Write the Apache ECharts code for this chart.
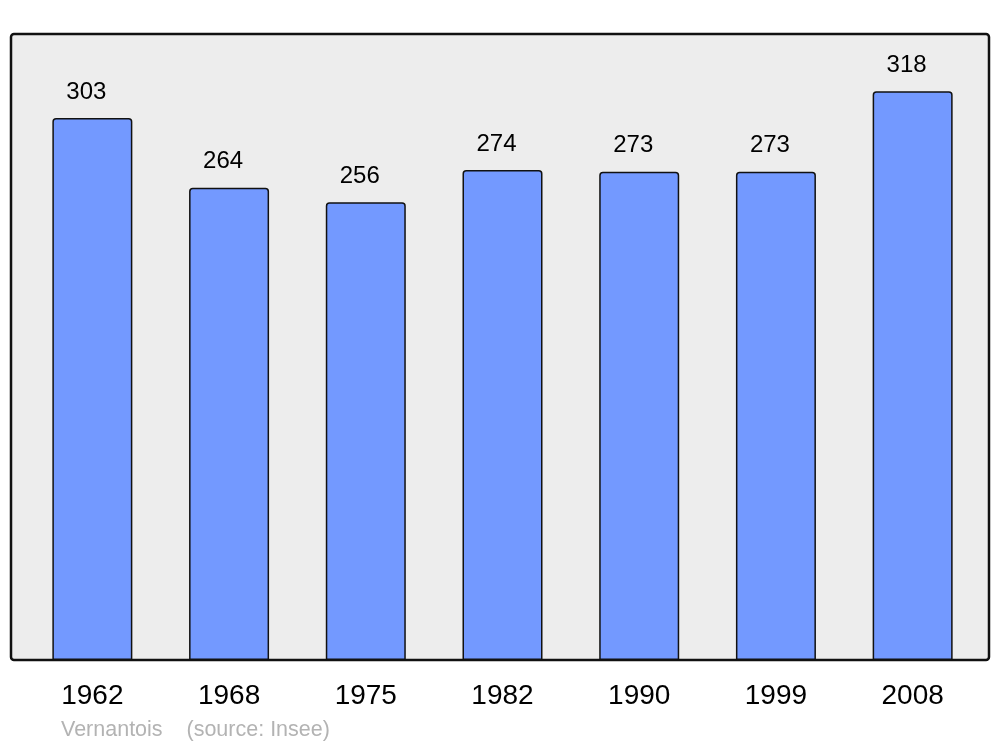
<!DOCTYPE html>
<html>
<head>
<meta charset="utf-8">
<script src="https://cdn.jsdelivr.net/npm/echarts@6/dist/echarts.min.js"></script>
<style>
  html, body { margin: 0; padding: 0; background: #fff; }
  #chart { width: 1000px; height: 747px; }
</style>
</head>
<body>
<div id="chart"></div>
<script>
// population by census year
const years = ['1962', '1968', '1975', '1982', '1990', '1999', '2008']
const population = [303, 264, 256, 274, 273, 273, 318]
const footer = 'Vernantois    (source: Insee)'

const chart = echarts.init(document.getElementById('chart'))

const option = {
  animation: false,
  textStyle: { fontFamily: 'Liberation Sans, Arial, sans-serif' },
  graphic: [
    {
      type: 'rect',
      z: -10,
      shape: { x: 11, y: 34, width: 978, height: 626, r: 3 },
      style: { fill: '#ededed', stroke: '#111', lineWidth: 2.5 }
    },
    {
      type: 'text',
      left: 61,
      top: 719,
      style: { text: footer, fill: '#b3b3b3', font: '21.5px "Liberation Sans", Arial, sans-serif' }
    }
  ],
  grid: { left: 24, right: 19, top: 34, bottom: 87 },
  xAxis: {
    type: 'category',
    data: years,
    axisLine: { show: false },
    axisTick: { show: false },
    axisLabel: { color: '#000', fontSize: 28, margin: 22 }
  },
  yAxis: {
    type: 'value',
    min: 0,
    max: 350,
    show: false,
    splitLine: { show: false }
  },
  series: [
    {
      type: 'bar',
      data: population,
      barWidth: 80,
      itemStyle: {
        color: '#7399ff',
        borderColor: '#111',
        borderWidth: 1.5,
        borderRadius: [3, 3, 0, 0]
      },
      label: {
        show: true,
        position: 'top',
        distance: 14,
        offset: [-6, 0],
        color: '#000',
        fontSize: 24
      }
    }
  ]
}

chart.setOption(option)
</script>
</body>
</html>
